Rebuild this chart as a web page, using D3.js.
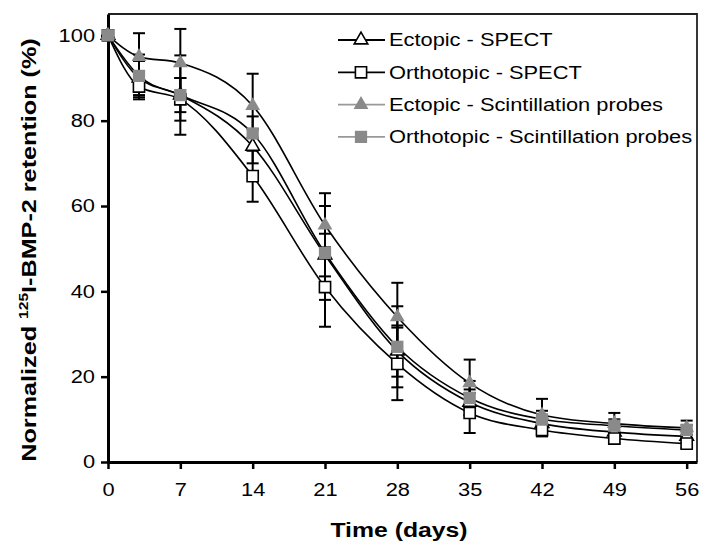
<!DOCTYPE html>
<html><head><meta charset="utf-8">
<script src="https://cdn.jsdelivr.net/npm/d3@7"></script>
<style>body{margin:0;background:#fff}svg{display:block}text{font-family:"Liberation Sans",Arial,sans-serif}</style>
</head><body>
<svg id="c" width="713" height="555"></svg>
<script>
const days = [0,3,7,14,21,28,35,42,49,56];
const xTicks = [0,7,14,21,28,35,42,49,56];
const yTicks = [0,20,40,60,80,100];
const ectopicSpect    = [100, 90, 86, 74, 48.5, 26, 14, 9, 7, 6];
const ectopicSpectErr = [0, 4, 4, 4, 5, 6, 3, 2, 1.5, 1.5];
const orthoSpect      = [100, 88, 85, 67, 41, 23, 11.5, 7.5, 5.5, 4.3];
const orthoSpectErr   = [0, 3, 5, 6, 9.3, 8.5, 4.7, 1.5, 1, 1];
const ectopicScint    = [100, 95, 93.5, 83.5, 55.5, 34, 18.5, 11, 9, 8];
const ectopicScintErr = [0, 5.5, 8, 7.5, 7.5, 8, 5.5, 3.8, 2.5, 1.7];
const orthoScint      = [100, 90.5, 86, 77, 49, 27, 15, 10, 8.5, 7.5];
const orthoScintErr   = [0, 5, 9.3, 4, 11, 9.5, 4, 2, 1.5, 1.2];
const seriesNames = ["Ectopic - SPECT","Orthotopic - SPECT","Ectopic - Scintillation probes","Orthotopic - Scintillation probes"];

const GRAY = "#8a8a8a";
const series = [
  {name:seriesNames[0], v:ectopicSpect, e:ectopicSpectErr, sym:d3.symbolTriangle, size:80, fill:"#fff", stroke:"#000", lc:"#000"},
  {name:seriesNames[1], v:orthoSpect, e:orthoSpectErr, sym:d3.symbolSquare, size:125, fill:"#fff", stroke:"#000", lc:"#000"},
  {name:seriesNames[2], v:ectopicScint, e:ectopicScintErr, sym:d3.symbolTriangle, size:95, fill:GRAY, stroke:"none", lc:"#999"},
  {name:seriesNames[3], v:orthoScint, e:orthoScintErr, sym:d3.symbolSquare, size:150, fill:GRAY, stroke:"none", lc:"#999"}
];

const svg = d3.select("#c");
const L=108, T=14, R=697, B=462;
const x = d3.scaleLinear().domain([0,57]).range([L,R]);
const y = d3.scaleLinear().domain([0,105]).range([B,T]);
const SX = 1.18;
function stretch(sel){ sel.each(function(){ const t=d3.select(this); const xx=+t.attr("x")||0; t.attr("transform",`translate(${xx},0) scale(${SX},1) translate(${-xx},0)`);}); }

// frame top/right
svg.append("path").attr("d",`M${L},${T}H${R}V${B}`).attr("fill","none").attr("stroke","#222").attr("stroke-width",1.8);

// axes
const gx = svg.append("g").attr("transform",`translate(0,${B})`)
  .call(d3.axisBottom(x).tickValues(xTicks).tickSize(7).tickSizeOuter(0));
gx.select(".domain").attr("stroke-width",3);
gx.selectAll(".tick line").attr("stroke-width",2.5);
gx.selectAll(".tick text").attr("font-size",18.5).attr("y",21).attr("fill","#000").attr("font-family","Liberation Sans, Arial").attr("transform",`scale(${SX},1)`);
const gy = svg.append("g").attr("transform",`translate(${L},0)`)
  .call(d3.axisLeft(y).tickValues(yTicks).tickSize(7).tickSizeOuter(0));
gy.select(".domain").attr("stroke-width",3);
gy.selectAll(".tick line").attr("stroke-width",2.5);
gy.selectAll(".tick text").attr("font-size",18.5).attr("x",-13).attr("fill","#000").attr("font-family","Liberation Sans, Arial").call(stretch);

// titles
svg.append("text").attr("x",399).attr("y",537).attr("text-anchor","middle").attr("font-size",21).attr("font-weight","bold").text("Time (days)").call(stretch);
const yt = svg.append("text").attr("transform","translate(36,250) rotate(-90) scale(1.2,1)").attr("text-anchor","middle").attr("font-size",21).attr("font-weight","bold");
yt.append("tspan").text("Normalized ");
yt.append("tspan").attr("font-size",13).attr("dy",-8).text("125");
yt.append("tspan").attr("dy",8).text("I-BMP-2 retention (%)");

// error bars
const cap = 6;
series.forEach(s=>{
  const g = svg.append("g").attr("stroke","#000").attr("stroke-width",2);
  days.forEach((d,i)=>{
    if(!s.e[i]) return;
    const cx=x(d), y1=y(s.v[i]+s.e[i]), y2=y(s.v[i]-s.e[i]);
    g.append("line").attr("x1",cx).attr("x2",cx).attr("y1",y1).attr("y2",y2);
    g.append("line").attr("x1",cx-cap).attr("x2",cx+cap).attr("y1",y1).attr("y2",y1);
    g.append("line").attr("x1",cx-cap).attr("x2",cx+cap).attr("y1",y2).attr("y2",y2);
  });
});

// lines
const line = d3.line().x((d,i)=>x(days[i])).y(d=>y(d)).curve(d3.curveMonotoneX);
series.forEach(s=>{
  svg.append("path").attr("d",line(s.v)).attr("fill","none").attr("stroke","#000").attr("stroke-width",1.6);
});

// markers
series.forEach(s=>{
  svg.append("g").selectAll("path").data(s.v).join("path")
    .attr("transform",(d,i)=>`translate(${x(days[i])},${y(d)})`)
    .attr("d",d3.symbol(s.sym,s.size))
    .attr("fill",s.fill).attr("stroke",s.stroke).attr("stroke-width",1.6);
});

// legend
const lg = svg.append("g");
series.forEach((s,i)=>{
  const cy = 40 + i*32.3;
  lg.append("line").attr("x1",338).attr("x2",385).attr("y1",cy).attr("y2",cy).attr("stroke",s.lc).attr("stroke-width",1.8);
  lg.append("path").attr("transform",`translate(361,${cy})`).attr("d",d3.symbol(s.sym,s.size)).attr("fill",s.fill).attr("stroke",s.stroke).attr("stroke-width",1.6);
  lg.append("text").attr("x",389).attr("y",cy+6.5).attr("font-size",18.5).attr("fill","#000").text(s.name).call(stretch);
});
</script>
</body></html>
